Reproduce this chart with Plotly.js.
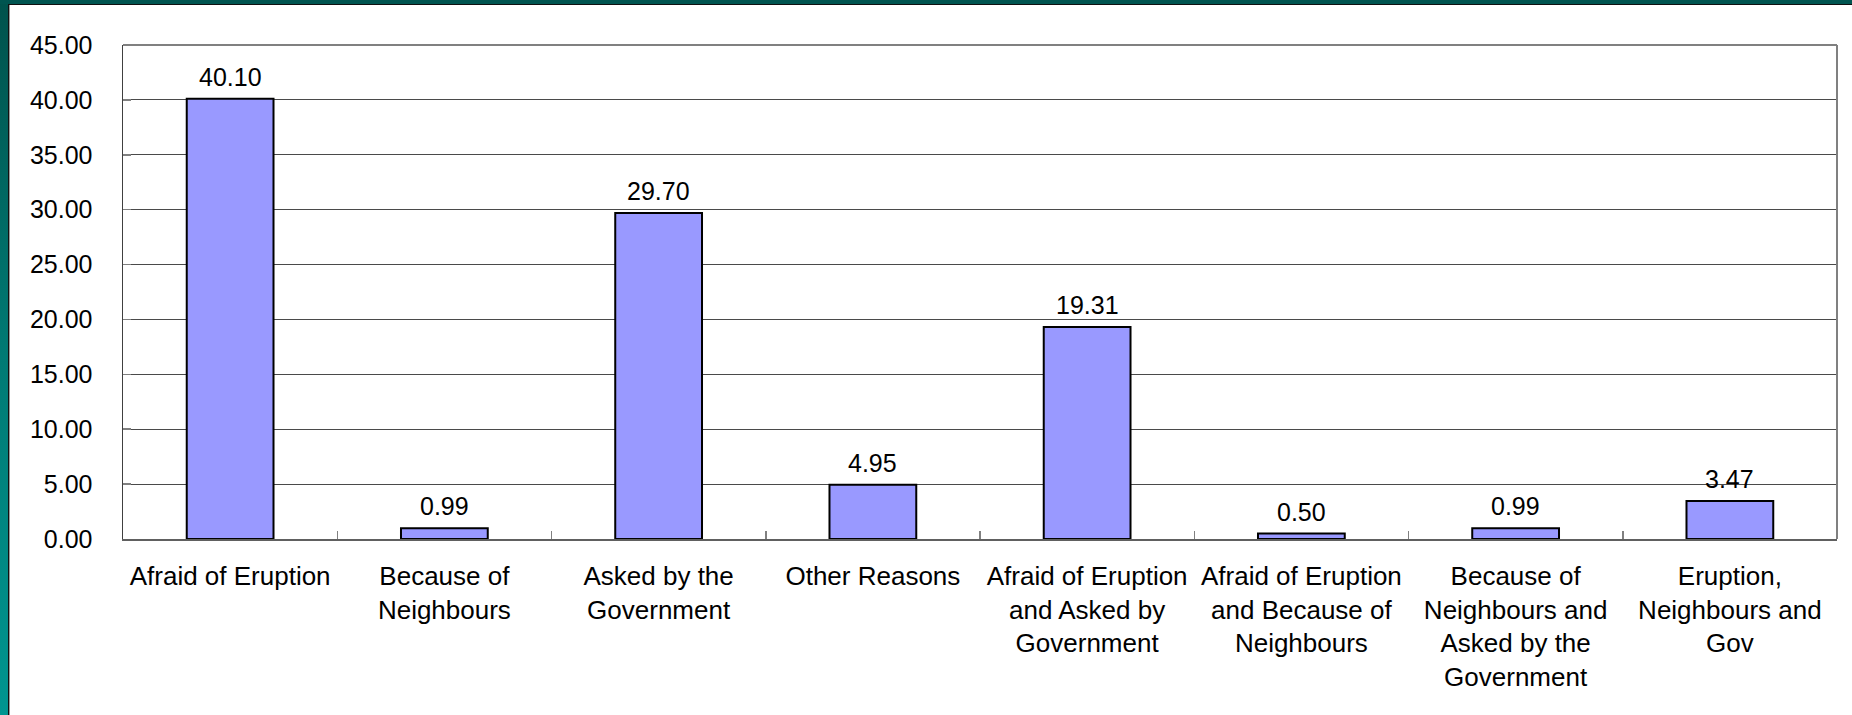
<!DOCTYPE html>
<html>
<head>
<meta charset="utf-8">
<script src="https://cdn.plot.ly/plotly-3.0.1.min.js"></script>
<style>
  html, body { margin: 0; padding: 0; background: #ffffff; }
  #wrap { position: relative; width: 1852px; height: 715px; overflow: hidden; }
  #chart { position: absolute; left: 0; top: 0; width: 1852px; height: 715px; }
  #bandLeft { position: absolute; left: 0; top: 0; width: 8px; height: 715px;
    background: linear-gradient(to bottom, #00524c 0%, #007a74 50%, #009590 100%); pointer-events: none; }
  #lineLeft { position: absolute; left: 8px; top: 0; width: 1px; height: 715px; background: #101010; pointer-events: none; }
  #lineLeft2 { position: absolute; left: 9px; top: 0; width: 1px; height: 715px; background: #9a9a9a; pointer-events: none; }
  #bandTop { position: absolute; left: 0; top: 0; width: 1852px; height: 4px; background: #005550; pointer-events: none; }
  #lineTop { position: absolute; left: 8px; top: 4px; width: 1844px; height: 1px; background: #101010; pointer-events: none; }
</style>
</head>
<body>
<div id="wrap">
  <div id="chart"></div>
  <div id="bandLeft"></div>
  <div id="lineLeft"></div>
  <div id="lineLeft2"></div>
  <div id="bandTop"></div>
  <div id="lineTop"></div>
</div>
<script>
const categories = [
  "Afraid of Eruption",
  "Because of<br>Neighbours",
  "Asked by the<br>Government",
  "Other Reasons",
  "Afraid of Eruption<br>and Asked by<br>Government",
  "Afraid of Eruption<br>and Because of<br>Neighbours",
  "Because of<br>Neighbours and<br>Asked by the<br>Government",
  "Eruption,<br>Neighbours and<br>Gov"
];
const percentages = [40.10, 0.99, 29.70, 4.95, 19.31, 0.50, 0.99, 3.47];
const yTickValues = [0, 5, 10, 15, 20, 25, 30, 35, 40, 45];

const numFont = { family: "Liberation Sans, Arial, sans-serif", size: 25, color: "#000000" };
const catFont = { family: "Liberation Sans, Arial, sans-serif", size: 26, color: "#000000" };

const trace = {
  type: "bar",
  x: categories,
  y: percentages,
  marker: { color: "#9999ff", line: { color: "#000000", width: 2 } },
  hoverinfo: "none"
};

const annotations = categories.map((c, i) => ({
  x: c, y: percentages[i], xref: "x", yref: "y",
  text: percentages[i].toFixed(2),
  showarrow: false, yanchor: "bottom", yshift: 6,
  font: numFont
}));

const layout = {
  width: 1852, height: 715,
  margin: { l: 123, r: 15, t: 45, b: 176, pad: 0 },
  paper_bgcolor: "#ffffff",
  plot_bgcolor: "#ffffff",
  showlegend: false,
  bargap: 0.595,
  xaxis: {
    type: "category",
    tickfont: catFont,
    tickangle: 0,
    showline: true, linecolor: "#606060", linewidth: 1.5,
    ticks: "inside", tickson: "boundaries", ticklen: 8, tickcolor: "#808080", tickwidth: 1.5,
    showgrid: false, zeroline: false,
    ticklabelstandoff: 13,
    fixedrange: true
  },
  yaxis: {
    range: [0, 45],
    tickvals: yTickValues,
    tickformat: ".2f",
    tickfont: numFont,
    showline: true, linecolor: "#404040", linewidth: 1.5,
    ticks: "inside", ticklen: 8, tickcolor: "#808080", tickwidth: 1.5,
    showgrid: true, gridcolor: "#4a4a4a", gridwidth: 1,
    zeroline: false,
    ticklabelstandoff: 24,
    fixedrange: true
  },
  shapes: [
    { type: "line", xref: "paper", yref: "paper", x0: 0, x1: 1, y0: 1, y1: 1, line: { color: "#808080", width: 2 } },
    { type: "line", xref: "paper", yref: "paper", x0: 1, x1: 1, y0: 0, y1: 1, line: { color: "#808080", width: 2 } }
  ],
  annotations: annotations
};

Plotly.newPlot("chart", [trace], layout, { displayModeBar: false, staticPlot: true });
</script>
</body>
</html>
